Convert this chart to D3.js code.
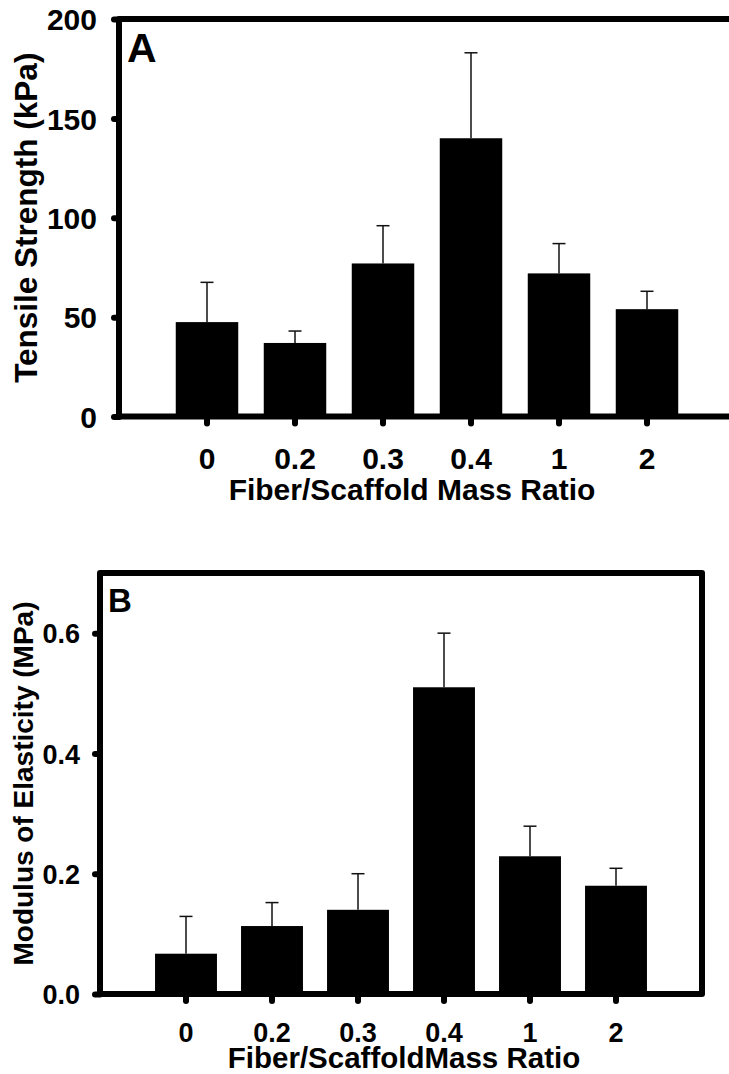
<!DOCTYPE html>
<html>
<head>
<meta charset="utf-8">
<script src="https://cdn.jsdelivr.net/npm/d3@7"></script>
<style>
  body { margin: 0; background: #fff; }
  svg { display: block; }
  text { font-family: "Liberation Sans", Arial, sans-serif; font-weight: bold; fill: #000; }
</style>
</head>
<body>
<script>
// data
var categories = ["0", "0.2", "0.3", "0.4", "1", "2"];
var strength = [47.5, 37, 77, 140, 72, 54];       // kPa
var strengthErr = [20, 6, 19, 43, 15, 9];
var modulus = [0.067, 0.113, 0.14, 0.51, 0.229, 0.18]; // MPa
var modulusErr = [0.062, 0.039, 0.06, 0.09, 0.05, 0.029];
var strengthTicks = [0, 50, 100, 150, 200];
var modulusTicks = [0, 0.2, 0.4, 0.6];

var svg = d3.select("body").append("svg")
  .attr("width", 729)
  .attr("height", 1074);

function panel(o) {
  var g = svg.append("g");
  var step = (o.right - o.left) / 7;
  var x = d3.scaleBand()
    .domain(categories)
    .range([o.left + step / 2, o.right - step / 2])
    .paddingInner(o.pad)
    .paddingOuter(o.pad / 2);
  var y = d3.scaleLinear().domain(o.domain).range([o.bottom, o.top]);

  var rows = categories.map(function(c, i) { return {c: c, v: o.values[i], e: o.errs[i]}; });

  // bars
  g.selectAll("rect.bar").data(rows).enter().append("rect")
    .attr("class", "bar")
    .attr("x", function(d) { return x(d.c); })
    .attr("width", x.bandwidth())
    .attr("y", function(d) { return y(d.v); })
    .attr("height", function(d) { return y(0) - y(d.v); })
    .style("fill", "#000");

  // upper error bars
  var eb = g.selectAll("g.err").data(rows).enter().append("g").attr("class", "err")
    .style("stroke", "#111").style("stroke-width", 1.5);
  eb.append("line")
    .attr("x1", function(d) { return x(d.c) + x.bandwidth() / 2; })
    .attr("x2", function(d) { return x(d.c) + x.bandwidth() / 2; })
    .attr("y1", function(d) { return y(d.v); })
    .attr("y2", function(d) { return y(d.v + d.e); });
  eb.append("line")
    .attr("x1", function(d) { return x(d.c) + x.bandwidth() / 2 - 6.5; })
    .attr("x2", function(d) { return x(d.c) + x.bandwidth() / 2 + 6.5; })
    .attr("y1", function(d) { return y(d.v + d.e); })
    .attr("y2", function(d) { return y(d.v + d.e); });

  // frame
  g.append("rect")
    .attr("x", o.left).attr("y", o.top)
    .attr("width", o.right - o.left).attr("height", o.bottom - o.top)
    .style("fill", "none").style("stroke", "#000")
    .style("stroke-width", 6).style("stroke-linejoin", "round");

  // y axis
  var ya = g.append("g").attr("transform", "translate(" + o.left + ",0)")
    .call(d3.axisLeft(y).tickValues(o.ticks).tickFormat(d3.format(o.fmt))
      .tickSizeInner(5).tickSizeOuter(0).tickPadding(o.ypad));
  ya.select(".domain").remove();
  ya.selectAll(".tick line").style("stroke", "#000").style("stroke-width", 6).style("stroke-linecap", "round");
  ya.selectAll(".tick text").style("font-size", o.tickFont + "px").attr("dy", "0.36em");

  // x axis
  var xa = g.append("g").attr("transform", "translate(0," + o.bottom + ")")
    .call(d3.axisBottom(x).tickSizeInner(7).tickSizeOuter(0));
  xa.select(".domain").remove();
  xa.selectAll(".tick line").style("stroke", "#000").style("stroke-width", 6).style("stroke-linecap", "round");
  xa.selectAll(".tick text").style("font-size", o.tickFont + "px")
    .attr("y", o.xlabY).attr("dy", 0);

  // titles
  g.append("text")
    .attr("x", o.xTitleX).attr("y", o.xTitleY)
    .attr("text-anchor", "middle")
    .style("font-size", o.titleFont + "px")
    .text(o.xTitle);
  g.append("text")
    .attr("transform", "translate(" + o.yTitleX + "," + ((o.top + o.bottom) / 2) + ") rotate(-90)")
    .attr("text-anchor", "middle")
    .style("font-size", o.yTitleFont + "px")
    .text(o.yTitle);
  g.append("text")
    .attr("x", o.left + 8).attr("y", o.letterY)
    .style("font-size", o.letterFont + "px")
    .text(o.letter);
}

panel({
  left: 119, right: 735, top: 19, bottom: 416.5,
  domain: [0, 200], ticks: strengthTicks, fmt: "d", pad: 0.29,
  values: strength, errs: strengthErr,
  tickFont: 30, ypad: 17, xlabY: 52,
  xTitle: "Fiber/Scaffold Mass Ratio", xTitleX: 412, xTitleY: 500, titleFont: 30,
  yTitle: "Tensile Strength (kPa)", yTitleX: 37, yTitleFont: 31.5,
  letter: "A", letterY: 62, letterFont: 41
});

panel({
  left: 100, right: 702, top: 573, bottom: 994,
  domain: [0, 0.7], ticks: modulusTicks, fmt: ".1f", pad: 0.28,
  values: modulus, errs: modulusErr,
  tickFont: 27, ypad: 15, xlabY: 48,
  xTitle: "Fiber/ScaffoldMass Ratio", xTitleX: 404, xTitleY: 1068, titleFont: 29.5,
  yTitle: "Modulus of Elasticity (MPa)", yTitleX: 33, yTitleFont: 28,
  letter: "B", letterY: 612, letterFont: 33
});
</script>
</body>
</html>
